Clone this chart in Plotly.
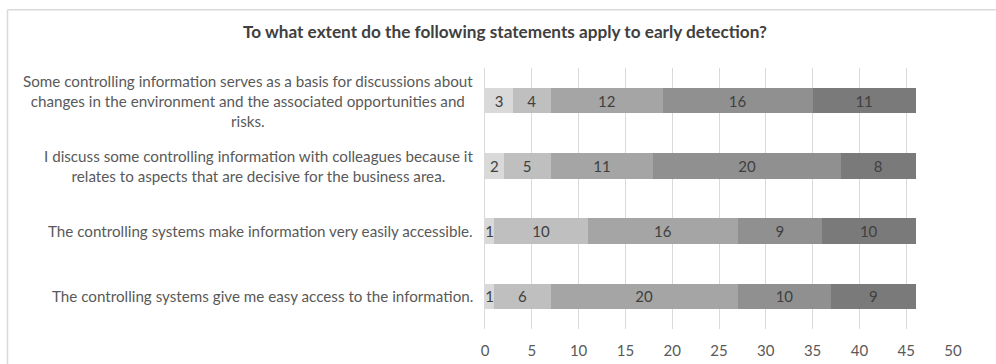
import plotly.graph_objects as go

# Survey statements (top to bottom) and the five answer levels
statements = [
    "Some controlling information serves as a basis for discussions about<br>changes in the environment and the associated opportunities and<br>risks.",
    "I discuss some controlling information with colleagues because it<br>relates to aspects that are decisive for the business area.",
    "The controlling systems make information very easily accessible.",
    "The controlling systems give me easy access to the information.",
]
levels = ["Does not apply at all", "Rather does not apply", "Partly applies", "Rather applies", "Fully applies"]

level1 = [3, 2, 1, 1]
level2 = [4, 5, 10, 6]
level3 = [12, 11, 16, 20]
level4 = [16, 20, 9, 10]
level5 = [11, 8, 10, 9]
series = [level1, level2, level3, level4, level5]

x_ticks = [0, 5, 10, 15, 20, 25, 30, 35, 40, 45, 50]

colors = ["#d9d9d9", "#bfbfbf", "#a5a5a5", "#909090", "#7a7a7a"]

FONT = "Lato, Calibri, Carlito, sans-serif"
TEXT = "#595959"

W, H = 996, 364
ML, MR, MT, MB = 485, 42.5, 67.5, 34.5
PW = W - ML - MR
PH = H - MT - MB


def px(xp):
    return (xp - ML) / PW


def py(yp):
    return (H - MB - yp) / PH


cats = list(range(len(statements)))

fig = go.Figure()
for name, vals, col in zip(levels, series, colors):
    fig.add_trace(go.Bar(
        y=cats,
        x=vals,
        name=name,
        orientation="h",
        marker=dict(color=col, line=dict(width=0)),
        text=[str(v) for v in vals],
        textposition="inside",
        insidetextanchor="middle",
        textangle=0,
        textfont=dict(family=FONT, size=15, color="#404040"),
        cliponaxis=False,
    ))

# Category labels, right-aligned block with centred lines
annotations = []
for i, s in enumerate(statements):
    annotations.append(dict(
        x=0, xref="paper", y=i, yref="y",
        xanchor="right", yanchor="middle",
        xshift=-10,
        text=s, showarrow=False, align="center",
        font=dict(family=FONT, size=15.2, color=TEXT),
    ))

annotations.append(dict(
    x=px(505), xref="paper", y=py(31), yref="paper",
    xanchor="center", yanchor="middle",
    text="<b>To what extent do the following statements apply to early detection?</b>",
    showarrow=False,
    font=dict(family=FONT, size=17.2, color="#404040"),
))

# Chart-area frame
shapes = [
    dict(type="line", xref="paper", yref="paper",
         x0=px(7), x1=px(1010), y0=py(9), y1=py(9),
         line=dict(color="#d9d9d9", width=1.5)),
    dict(type="line", xref="paper", yref="paper",
         x0=px(7), x1=px(7), y0=py(9), y1=py(380),
         line=dict(color="#d9d9d9", width=1.5)),
]

fig.update_layout(
    width=W, height=H,
    margin=dict(l=ML, r=MR, t=MT, b=MB, pad=0, autoexpand=False),
    barmode="stack",
    bargap=0.61,
    showlegend=False,
    plot_bgcolor="white",
    paper_bgcolor="white",
    uniformtext=dict(minsize=15, mode="show"),
    annotations=annotations,
    shapes=shapes,
    xaxis=dict(
        range=[0, 50],
        tickvals=x_ticks,
        ticktext=[str(t) for t in x_ticks],
        showgrid=True, gridcolor="#d9d9d9", gridwidth=1,
        zeroline=False, showline=False,
        ticks="outside", ticklen=8, tickcolor="rgba(0,0,0,0)",
        tickfont=dict(family=FONT, size=15, color=TEXT),
        automargin=False,
        fixedrange=True,
    ),
    yaxis=dict(
        tickvals=cats,
        showticklabels=False,
        range=[3.5, -0.5],
        showgrid=False, zeroline=False,
        showline=True, linecolor="#d9d9d9", linewidth=1,
        automargin=False,
        fixedrange=True,
    ),
)

fig.write_html("out.html")
